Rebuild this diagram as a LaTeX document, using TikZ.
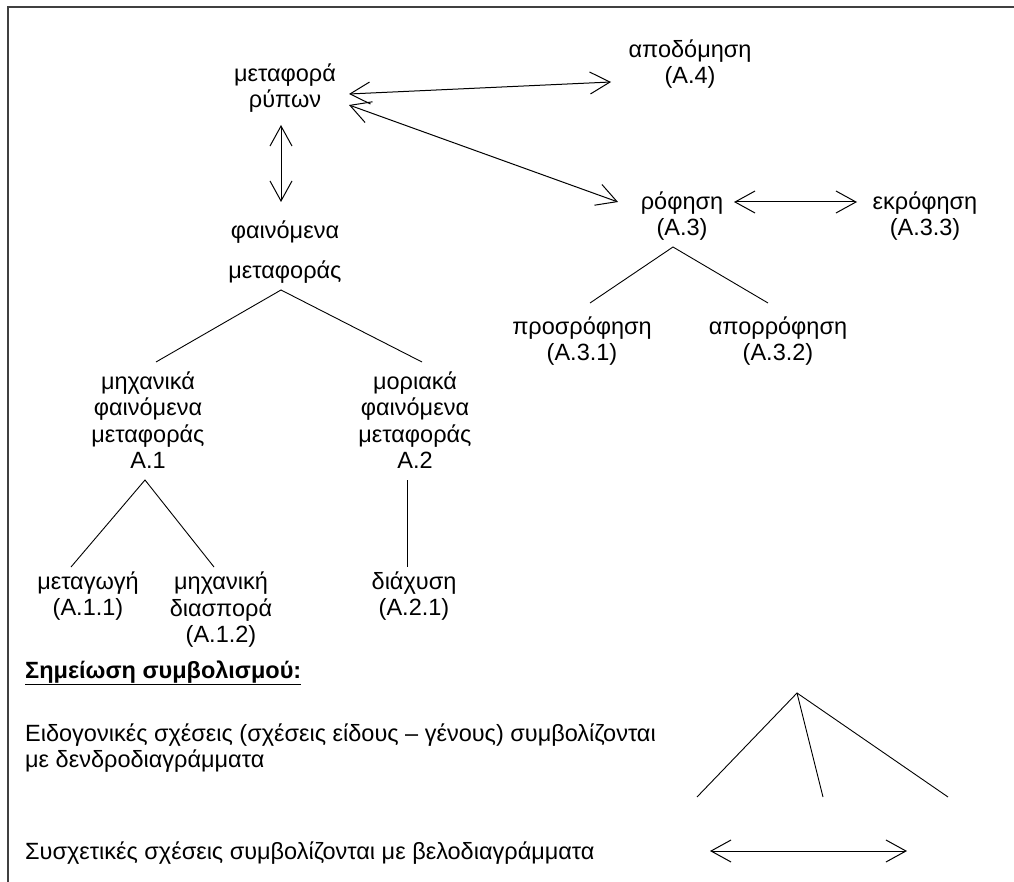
\documentclass[tikz,border=0pt]{standalone}
\usepackage{fontspec}
\setmainfont{Liberation Sans}
\usetikzlibrary{arrows.meta,positioning,calc}

\begin{document}
\begin{tikzpicture}[x=1pt,y=-1pt,
  lbl/.style={align=center, inner sep=0pt, font=\fontsize{23.5}{26.5}\selectfont},
  rel/.style={{Straight Barb[length=20pt,width=22pt]}-{Straight Barb[length=20pt,width=22pt]}, line width=1pt},
  tree/.style={line width=0.9pt}]
\useasboundingbox (0,0) rectangle (1014,882);
\draw[line width=2pt, black!75] (8,882) -- (8,7) -- (1014,7);

% upper part
\node[lbl] (mr) at (285,88) {μεταφορά\\ρύπων};
\node[lbl] (apod) at (690,64) {αποδόμηση\\(A.4)};
\node[lbl] (rof) at (682,216) {ρόφηση\\(A.3)};
\node[lbl] (ekrof) at (925,216) {εκρόφηση\\(A.3.3)};
\node[lbl] (fm) at (285,252) {φαινόμενα\\[14pt]μεταφοράς};
\node[lbl] (prosr) at (582,341) {προσρόφηση\\(A.3.1)};
\node[lbl] (aporr) at (778,341) {απορρόφηση\\(A.3.2)};

% lower part
\node[lbl] (mf1) at (148,420) {μηχανικά\\φαινόμενα\\μεταφοράς\\A.1};
\node[lbl] (mf2) at (415,420) {μοριακά\\φαινόμενα\\μεταφοράς\\A.2};
\node[lbl] (metag) at (88,596) {μεταγωγή\\(A.1.1)};
\node[lbl] (mdiasp) at (221,610) {μηχανική\\διασπορά\\(A.1.2)};
\node[lbl] (diax) at (414,596) {διάχυση\\(A.2.1)};

\draw[rel] ($(mr)+(64,6)$) -- ($(apod)+(-79,18)$);
\draw[rel] ($(mr)+(64,17)$) -- ($(rof)+(-64,-14)$);
\draw[rel] ($(rof)+(52,-14)$) -- ($(ekrof)+(-68,-14)$);
\draw[rel] ($(mr)+(-4,37)$) -- ($(fm)+(-4,-50)$);

\draw[tree] ($(mf1)+(8,-58)$) -- ($(fm)+(-4,38)$) -- ($(mf2)+(7,-58)$);
\draw[tree] ($(metag)+(-17,-29)$) -- ($(mf1)+(-3,60)$) -- ($(mdiasp)+(-7,-43)$);
\draw[tree] ($(mf2)+(-8,60)$) -- ($(diax)+(-7,-29)$);
\draw[tree] ($(prosr)+(8,-38)$) -- ($(rof)+(-9,31)$) -- ($(aporr)+(-10,-38)$);

% legend
\node[lbl, anchor=west] (title) at (25,673) {\underline{\textbf{Σημείωση συμβολισμού:}}};
\node[lbl, anchor=west, align=left] (eidog) at (25,748) {Ειδογονικές σχέσεις (σχέσεις είδους – γένους) συμβολίζονται\\με δενδροδιαγράμματα};
\node[lbl, anchor=west] (sysx) at (25,853) {Συσχετικές σχέσεις συμβολίζονται με βελοδιαγράμματα};

\coordinate (top) at (797,693);
\coordinate (l1) at (697,797);
\coordinate (l2) at (823,797);
\coordinate (l3) at (948,797);
\draw[tree] (l1) -- (top) -- (l3);
\draw[tree] (top) -- (l2);
\coordinate (a1) at (710,851);
\coordinate (a2) at (907,851);
\draw[rel] (a1) -- (a2);
\end{tikzpicture}
\end{document}
